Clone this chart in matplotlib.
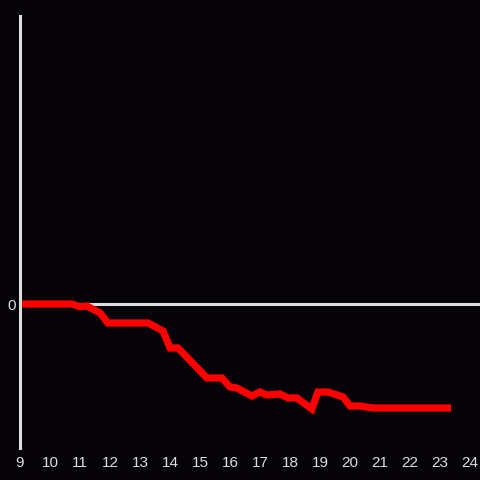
import matplotlib
matplotlib.use('Agg')
import matplotlib.pyplot as plt

# values (x in hours, y in arbitrary units)
x = [9.0, 10.73, 11.0, 11.23, 11.67, 11.93, 13.27, 13.77, 14.0, 14.27,
     15.07, 15.23, 15.73, 16.0, 16.23, 16.73, 17.0, 17.23, 17.67, 17.93,
     18.23, 18.73, 18.93, 19.27, 19.77, 20.0, 20.33, 20.77, 23.37]
y = [0.0, 0.0, -0.27, -0.2, -0.9, -1.9, -1.9, -2.7, -4.4, -4.4,
     -6.9, -7.4, -7.4, -8.3, -8.4, -9.2, -8.8, -9.1, -9.0, -9.4,
     -9.4, -10.5, -8.8, -8.8, -9.3, -10.2, -10.2, -10.4, -10.4]
xticks = list(range(9, 25))

bg = '#050307'
fg = '#dddddd'

fig = plt.figure(figsize=(4.8, 4.8), dpi=100, facecolor=bg)
ax = fig.add_axes([20/480, 1 - 448/480, 460/480, 432/480])
ax.set_facecolor(bg)

ax.axhline(0, color=fg, lw=2.2, zorder=1)
ax.plot(x, y, color='#ff0000', lw=5.2, solid_joinstyle='miter',
        solid_capstyle='butt', zorder=2)

ax.set_xlim(9, 24.333)
ax.set_ylim(-14.4, 28.8)

for s in ['top', 'right', 'bottom']:
    ax.spines[s].set_visible(False)
ax.spines['left'].set_color(fg)
ax.spines['left'].set_linewidth(2.2)
ax.spines['left'].set_zorder(3)

ax.set_xticks(xticks)
ax.set_xticklabels([str(t) for t in xticks])
ax.set_yticks([0])
ax.set_yticklabels(['0'])
ax.tick_params(length=0, colors=fg, labelsize=11)
ax.tick_params(axis='x', pad=6)
ax.tick_params(axis='y', pad=3)
for lab in ax.get_xticklabels() + ax.get_yticklabels():
    lab.set_family('Liberation Sans')

fig.savefig('out.png', dpi=100, facecolor=bg)
